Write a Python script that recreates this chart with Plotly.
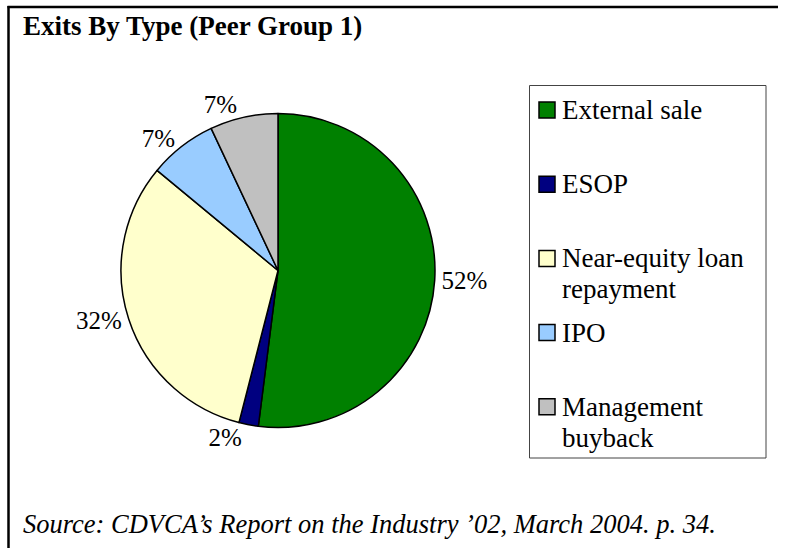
import plotly.graph_objects as go

# ---- data ----
categories = ["External sale", "ESOP", "Near-equity loan repayment", "IPO", "Management buyback"]
values = [52, 2, 32, 7, 7]
colors = ["#008000", "#000080", "#FFFFCC", "#99CCFF", "#C0C0C0"]
legend_lines = [["External sale"], ["ESOP"], ["Near-equity loan", "repayment"], ["IPO"], ["Management", "buyback"]]
title_text = "Exits By Type (Peer Group 1)"
source_text = "Source: CDVCA’s Report on the Industry ’02, March 2004. p. 34."

W, H = 787, 548
SERIF = "Liberation Serif, Times New Roman, DejaVu Serif, serif"

def px(x):
    return x / W

def py(y):
    return 1 - y / H

cx, cy, r = 278, 270.5, 157

fig = go.Figure()
fig.add_trace(go.Pie(
    labels=categories,
    values=values,
    sort=False,
    direction="clockwise",
    rotation=0,
    marker=dict(colors=colors, line=dict(color="black", width=1.5)),
    texttemplate="%{value}%",
    textposition="outside",
    outsidetextfont=dict(family=SERIF, size=25, color="black"),
    domain=dict(x=[px(cx - r), px(cx + r)], y=[py(cy + r), py(cy - r)]),
    showlegend=False,
    hoverinfo="label+percent",
))

shapes = [
    # frame lines (top and left)
    dict(type="line", xref="paper", yref="paper", x0=px(7.5), x1=px(778), y0=py(7), y1=py(7),
         line=dict(color="black", width=2.5)),
    dict(type="line", xref="paper", yref="paper", x0=px(8.5), x1=px(8.5), y0=py(6), y1=py(548),
         line=dict(color="black", width=2.5)),
    # legend box
    dict(type="rect", xref="paper", yref="paper", x0=px(529.5), x1=px(766), y0=py(85.5), y1=py(458),
         line=dict(color="#444444", width=1), fillcolor="white"),
]

annotations = [
    dict(text="<b>" + title_text + "</b>", x=px(21), y=py(26), xref="paper", yref="paper",
         xanchor="left", yanchor="middle", showarrow=False,
         font=dict(family=SERIF, size=27, color="black")),
    dict(text="<i>" + source_text + "</i>", x=px(21), y=py(524), xref="paper", yref="paper",
         xanchor="left", yanchor="middle", showarrow=False,
         font=dict(family=SERIF, size=26.5, color="black")),
]

first_c, step, line_gap = 110, 74.2, 31
sw = 16
for i, (lines, col) in enumerate(zip(legend_lines, colors)):
    yc = first_c + i * step
    shapes.append(dict(type="rect", xref="paper", yref="paper",
                       x0=px(539), x1=px(539 + sw), y0=py(yc - sw / 2), y1=py(yc + sw / 2),
                       fillcolor=col, line=dict(color="black", width=1.5)))
    for k, ln in enumerate(lines):
        annotations.append(dict(text=ln, x=px(560), y=py(yc + k * line_gap), xref="paper", yref="paper",
                                xanchor="left", yanchor="middle", align="left", showarrow=False,
                                font=dict(family=SERIF, size=27, color="black")))

fig.update_layout(
    width=W, height=H,
    margin=dict(l=0, r=0, t=0, b=0),
    paper_bgcolor="white", plot_bgcolor="white",
    shapes=shapes, annotations=annotations,
)

fig.write_html("out.html", config={"displayModeBar": False},
               post_script="document.body.style.margin='0px';document.body.style.overflow='hidden';")
